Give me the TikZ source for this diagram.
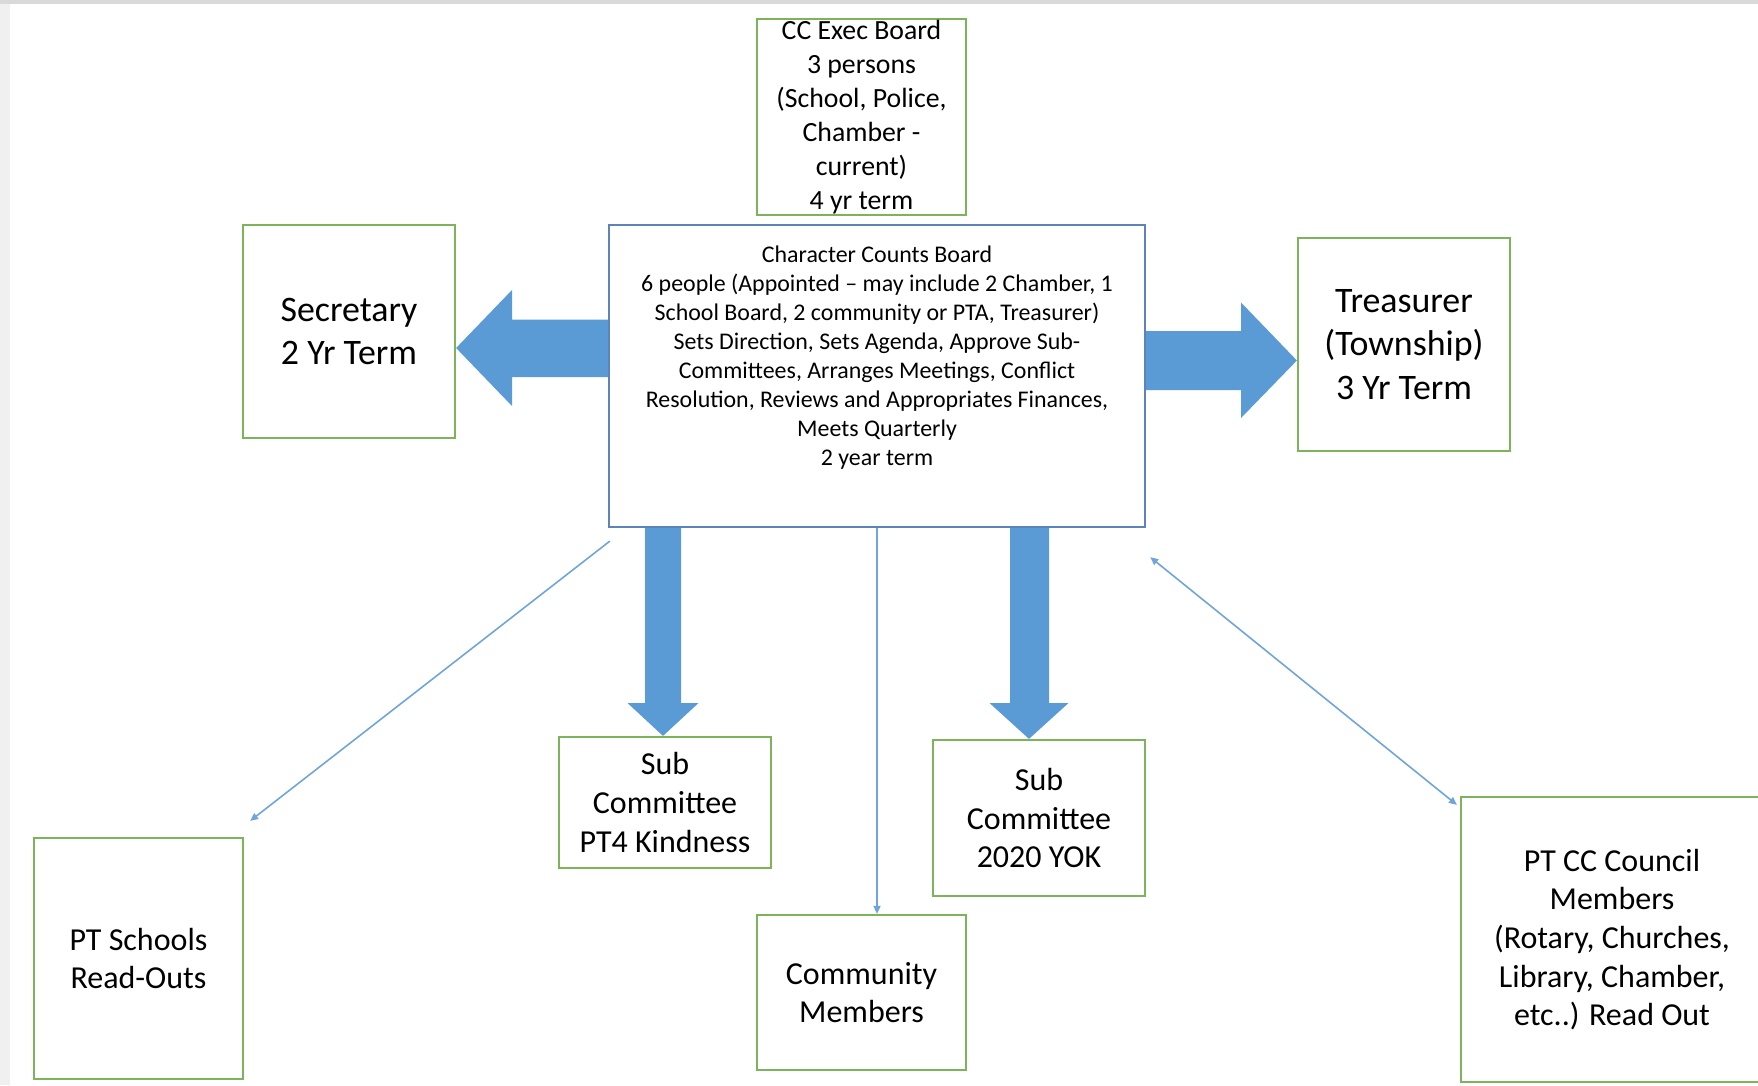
\documentclass[tikz,border=0pt]{standalone}
\usepackage{fontspec}
\setmainfont{Carlito}
\usetikzlibrary{arrows.meta,positioning}

\definecolor{boxgreen}{HTML}{7CB35B}
\definecolor{fatblue}{HTML}{5B9BD5}
\definecolor{boardblue}{HTML}{5D84B8}
\definecolor{thinblue}{HTML}{6FA5DA}

\tikzset{
  greenbox/.style={draw=boxgreen, line width=0.6pt, fill=white, align=center, inner sep=0pt},
  bigtxt/.style={font=\fontsize{10.2}{12.4}\selectfont},
  midtxt/.style={font=\fontsize{9.1}{11}\selectfont},
  fatarrow/.style={fill=fatblue},
  thinlink/.style={draw=thinblue, line width=0.45pt},
  tip/.tip={Triangle[length=0.08cm,width=0.07cm]}
}

\begin{document}
\begin{tikzpicture}[x=0.01cm,y=-0.01cm]
\useasboundingbox (0,0) rectangle (1758,1085);
\fill[white] (0,0) rectangle (1758,1085);
\fill[black!6] (0,0) rectangle (10,1085);
\fill[black!15] (0,0) rectangle (1758,4);

% boxes
\node[greenbox, minimum width=2.09cm, minimum height=1.96cm, font=\fontsize{7.9}{9.7}\selectfont] (exec) at (861.5,117) {CC Exec Board\\3 persons\\(School, Police,\\Chamber -\\current)\\4 yr term};
\node[draw=boardblue, line width=0.6pt, minimum width=5.36cm, minimum height=3.02cm] (board) at (877,376) {};
\node[below=0.21cm of board.north, align=center, inner sep=0pt, font=\fontsize{6.8}{8.25}\selectfont] (boardtxt) {Character Counts Board\\6 people (Appointed -- may include 2 Chamber, 1\\School Board, 2 community or PTA, Treasurer)\\Sets Direction, Sets Agenda, Approve Sub-\\Committees, Arranges Meetings, Conflict\\Resolution, Reviews and Appropriates Finances,\\Meets Quarterly\\2 year term};
\node[greenbox, bigtxt, minimum width=2.12cm, minimum height=2.13cm] (sec) at (349,331.5) {Secretary\\2 Yr Term};
\node[greenbox, bigtxt, minimum width=2.12cm, minimum height=2.13cm] (treas) at (1404,344.5) {Treasurer\\(Township)\\3 Yr Term};
\node[greenbox, midtxt, minimum width=2.12cm, minimum height=1.31cm] (subkind) at (665,802.5) {Sub\\Committee\\PT4 Kindness};
\node[greenbox, midtxt, minimum width=2.12cm, minimum height=1.56cm] (subyok) at (1039,818) {Sub\\Committee\\2020 YOK};
\node[greenbox, midtxt, minimum width=2.09cm, minimum height=1.55cm] (comm) at (861.5,992.5) {Community\\Members};
\node[greenbox, midtxt, minimum width=2.09cm, minimum height=2.41cm] (schools) at (138.5,958.5) {PT Schools\\Read-Outs};
\node[greenbox, midtxt, minimum width=3.02cm, minimum height=2.85cm] (council) at (1612,939.5) {PT CC Council\\Members\\(Rotary, Churches,\\Library, Chamber,\\etc..) Read Out};

% block arrows
\fill[fatarrow] (board.west |- 0,319.5) -- (512,319.5) -- (512,290) -- (sec.east |- 0,348) -- (512,406) -- (512,377) -- (board.west |- 0,377) -- cycle;
\fill[fatarrow] (board.east |- 0,331) -- (1241,331) -- (1241,302.5) -- (treas.west |- 0,360.5) -- (1241,418) -- (1241,390) -- (board.east |- 0,390) -- cycle;
\fill[fatarrow] (645,0 |- board.south) -- (645,703) -- (627.5,703) -- (subkind.north -| 663,0) -- (698.5,703) -- (681,703) -- (681,0 |- board.south) -- cycle;
\fill[fatarrow] (1010,0 |- board.south) -- (1010,703) -- (989.5,703) -- (subyok.north -| 1029,0) -- (1068.5,703) -- (1049,703) -- (1049,0 |- board.south) -- cycle;

% thin links
\draw[thinlink, -tip] (board.south) -- (board.south |- comm.north);
\draw[thinlink, -tip] ([shift={(2,13)}]board.south west) -- ([shift={(6,-16)}]schools.north east);
\draw[thinlink, tip-tip] ([shift={(4,29)}]board.south east) -- ([shift={(-3,9)}]council.north west);
\end{tikzpicture}
\end{document}
